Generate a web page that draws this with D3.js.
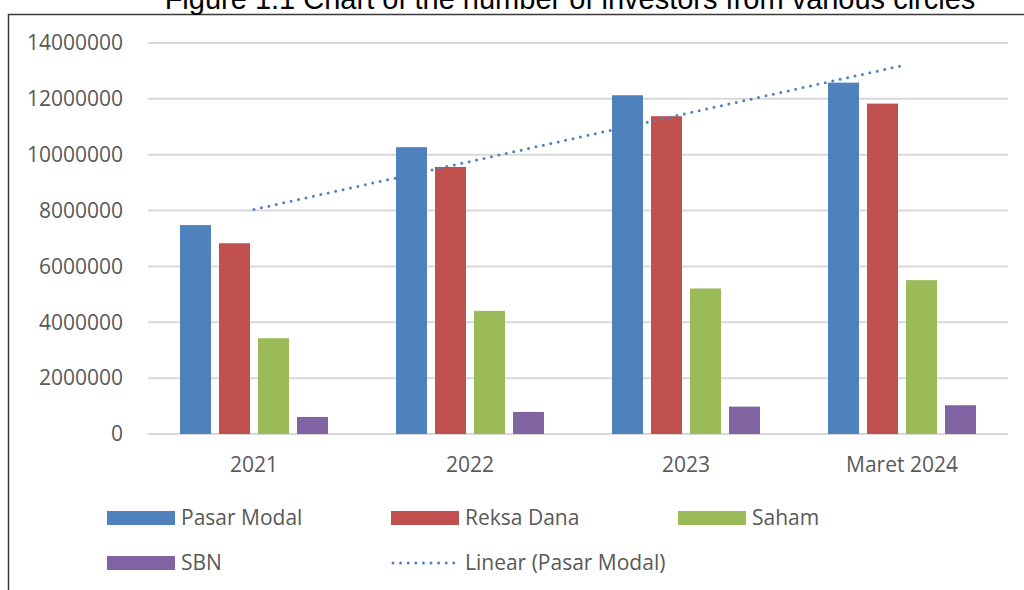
<!DOCTYPE html>
<html>
<head>
<meta charset="utf-8">
<script src="https://cdn.jsdelivr.net/npm/d3@7"></script>
<style>
  body { margin: 0; background: #fff; }
  svg { display: block; }
</style>
</head>
<body>
<script>
const categories = ["2021", "2022", "2023", "Maret 2024"];
const seriesNames = ["Pasar Modal", "Reksa Dana", "Saham", "SBN"];
const pasarModal = [7480000, 10270000, 12130000, 12580000];
const reksaDana = [6830000, 9560000, 11380000, 11830000];
const saham = [3430000, 4410000, 5210000, 5510000];
const sbn = [610000, 790000, 980000, 1030000];
const yTicks = [0, 2000000, 4000000, 6000000, 8000000, 10000000, 12000000, 14000000];
const colors = ["#4f81bd", "#c0504d", "#9bbb59", "#8064a2"];

const seriesValues = [pasarModal, reksaDana, saham, sbn];
const w = 1024;
const h = 590;

const svg = d3.select("body").append("svg").attr("width", w).attr("height", h);

// outer frame (runs off the right and bottom edge)
svg.append("rect")
  .attr("x", 8.5).attr("y", 14.5)
  .attr("width", 1040).attr("height", 600)
  .attr("fill", "none").attr("stroke", "#3a3a3a").attr("stroke-width", 1.5);

// title, partly cut off at the top like the source
svg.append("text")
  .attr("x", 570).attr("y", 9)
  .attr("text-anchor", "middle")
  .style("font-family", "Liberation Sans, Arial, sans-serif")
  .style("font-size", "29px")
  .attr("fill", "#000")
  .text("Figure 1.1 Chart of the number of investors from various circles");

const y = d3.scaleLinear().domain([0, 14000000]).range([434, 43]);
const x0 = d3.scaleBand().domain(categories).range([146, 1010]);
const x1 = d3.scaleBand().domain(seriesNames).range([0, x0.bandwidth()])
  .paddingInner(0.205).paddingOuter(0.872);

const font = "'Open Sans', sans-serif";
const fs = "21px";

// gridlines
svg.append("g")
  .selectAll("line")
  .data(yTicks)
  .enter()
  .append("line")
  .attr("x1", 148).attr("x2", 1008)
  .attr("y1", (d) => y(d)).attr("y2", (d) => y(d))
  .attr("stroke", "#d9d9d9").attr("stroke-width", 2);

svg.append("g")
  .selectAll("text")
  .data(yTicks)
  .enter()
  .append("text")
  .attr("x", 123)
  .attr("y", (d) => y(d))
  .attr("dy", "0.35em")
  .attr("text-anchor", "end")
  .style("font-family", font).style("font-size", fs)
  .attr("fill", "#595959")
  .text((d) => d);

// bars
const groups = svg.append("g")
  .selectAll("g")
  .data(categories)
  .enter()
  .append("g")
  .attr("transform", (d) => `translate(${x0(d)},0)`);

groups.selectAll("rect")
  .data((c, ci) => seriesNames.map((s, si) => ({ s: s, v: seriesValues[si][ci], color: colors[si] })))
  .enter()
  .append("rect")
  .attr("x", (d) => x1(d.s))
  .attr("y", (d) => y(d.v))
  .attr("width", x1.bandwidth())
  .attr("height", (d) => y(0) - y(d.v))
  .attr("fill", (d) => d.color);

// category labels
svg.append("g")
  .selectAll("text")
  .data(categories)
  .enter()
  .append("text")
  .attr("x", (d) => x0(d) + x0.bandwidth() / 2)
  .attr("y", 472)
  .attr("text-anchor", "middle")
  .style("font-family", font).style("font-size", fs)
  .attr("fill", "#595959")
  .text((d) => d);

// linear trend of Pasar Modal (least squares)
const xs = pasarModal.map((d, i) => i + 1);
const mx = d3.mean(xs);
const my = d3.mean(pasarModal);
const slope = d3.sum(xs, (xv, i) => (xv - mx) * (pasarModal[i] - my)) / d3.sum(xs, (xv) => (xv - mx) ** 2);
const icpt = my - slope * mx;
const trend = categories.map((c, i) => [x0(c) + x0.bandwidth() / 2, y(icpt + slope * (i + 1))]);

svg.append("path")
  .attr("d", d3.line()([trend[0], trend[trend.length - 1]]))
  .attr("fill", "none")
  .attr("stroke", "#4f81bd")
  .attr("stroke-width", 3)
  .attr("stroke-linecap", "round")
  .attr("stroke-dasharray", "0 7.6");

// legend
const legendItems = [
  { name: "Pasar Modal", color: colors[0], x: 107, y: 518 },
  { name: "Reksa Dana", color: colors[1], x: 391, y: 518 },
  { name: "Saham", color: colors[2], x: 678, y: 518 },
  { name: "SBN", color: colors[3], x: 107, y: 563 }
];

const lg = svg.append("g")
  .selectAll("g")
  .data(legendItems)
  .enter()
  .append("g")
  .attr("transform", (d) => `translate(${d.x},${d.y})`);

lg.append("rect")
  .attr("x", 0).attr("y", -7)
  .attr("width", 68).attr("height", 14)
  .attr("fill", (d) => d.color);

lg.append("text")
  .attr("x", 74).attr("y", 0).attr("dy", "0.35em")
  .style("font-family", font).style("font-size", fs)
  .attr("fill", "#595959")
  .text((d) => d.name);

const trendLegend = svg.append("g").attr("transform", "translate(391,563)");
trendLegend.append("line")
  .attr("x1", 2).attr("x2", 66).attr("y1", 0).attr("y2", 0)
  .attr("stroke", "#4f81bd").attr("stroke-width", 3)
  .attr("stroke-linecap", "round").attr("stroke-dasharray", "0 7.6");
trendLegend.append("text")
  .attr("x", 74).attr("y", 0).attr("dy", "0.35em")
  .style("font-family", font).style("font-size", fs)
  .attr("fill", "#595959")
  .text("Linear (Pasar Modal)");
</script>
</body>
</html>
